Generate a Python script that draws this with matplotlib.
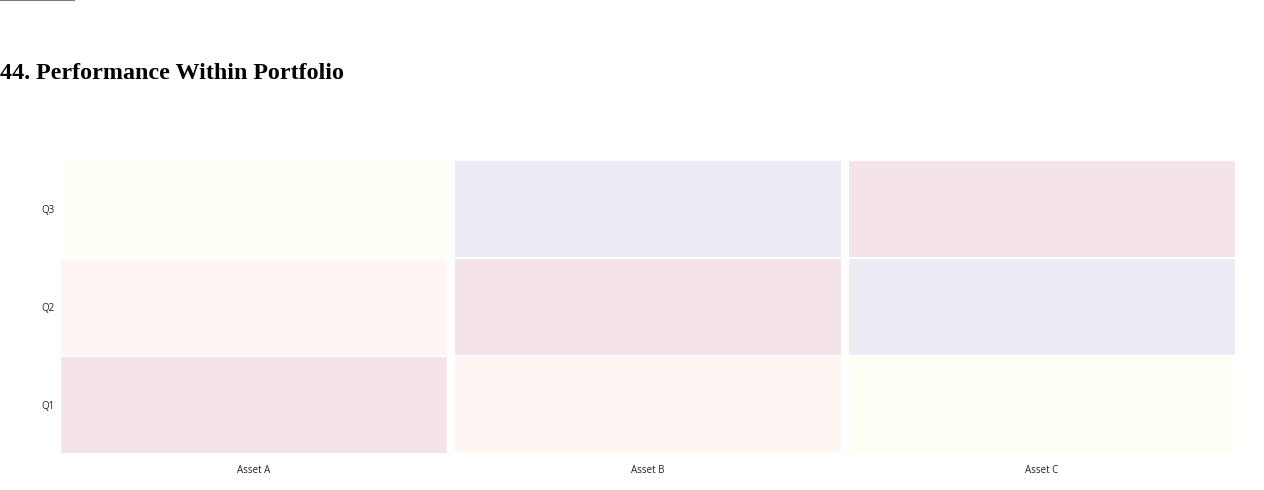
import matplotlib
matplotlib.use("Agg")
import matplotlib.pyplot as plt
from matplotlib.colors import LinearSegmentedColormap, Normalize
from matplotlib.lines import Line2D
import numpy as np

# categories
assets = ["Asset A", "Asset B", "Asset C"]
quarters = ["Q1", "Q2", "Q3"]

# performance score per asset, one entry per quarter (Q1, Q2, Q3)
asset_a = [2, 3, 4]
asset_b = [3, 2, 1]
asset_c = [4, 1, 2]

# very pale palette as in the reference (lavender -> pink -> peach -> cream)
pale_colors = ["#edebf4", "#f4e3e9", "#fdf6f2", "#fffef7"]
cmap = LinearSegmentedColormap.from_list("pale", pale_colors)

values = np.array([asset_a, asset_b, asset_c])
norm = Normalize(vmin=values.min(), vmax=values.max())

fig = plt.figure(figsize=(12.64, 4.9), dpi=100)
ax = fig.add_axes([57 / 1264, 1 - 454 / 490, 1182 / 1264, 294 / 490])

# one bar per cell, small gaps between cells
for i, name in enumerate(assets):
    for j, q in enumerate(quarters):
        v = values[i][j]
        ax.bar(i, 0.975, bottom=j - 0.4875, width=0.98,
               color=cmap(norm(v)), edgecolor="none")

ax.set_xlim(-0.5, len(assets) - 0.5)
ax.set_ylim(-0.5, len(quarters) - 0.5)
ax.set_xticks(range(len(assets)))
ax.set_xticklabels(assets)
ax.set_yticks(range(len(quarters)))
ax.set_yticklabels(quarters)
ax.tick_params(length=0, labelsize=7, labelcolor="#222222")
ax.tick_params(axis="x", pad=8)
ax.tick_params(axis="y", pad=2)
for lab in ax.get_xticklabels() + ax.get_yticklabels():
    lab.set_family(["Open Sans", "DejaVu Sans"])
for s in ax.spines.values():
    s.set_visible(False)

fig.text(0.0, 1 - 79 / 490, "44. Performance Within Portfolio",
         family="Liberation Serif", weight="bold", fontsize=17.25,
         ha="left", va="baseline", color="black")

# thin grey bar at the very top-left of the page
fig.add_artist(Line2D([0, 74 / 1264], [0.999, 0.999], color="#7a7a7a", lw=1.5))

fig.savefig("out.png", dpi=100)
